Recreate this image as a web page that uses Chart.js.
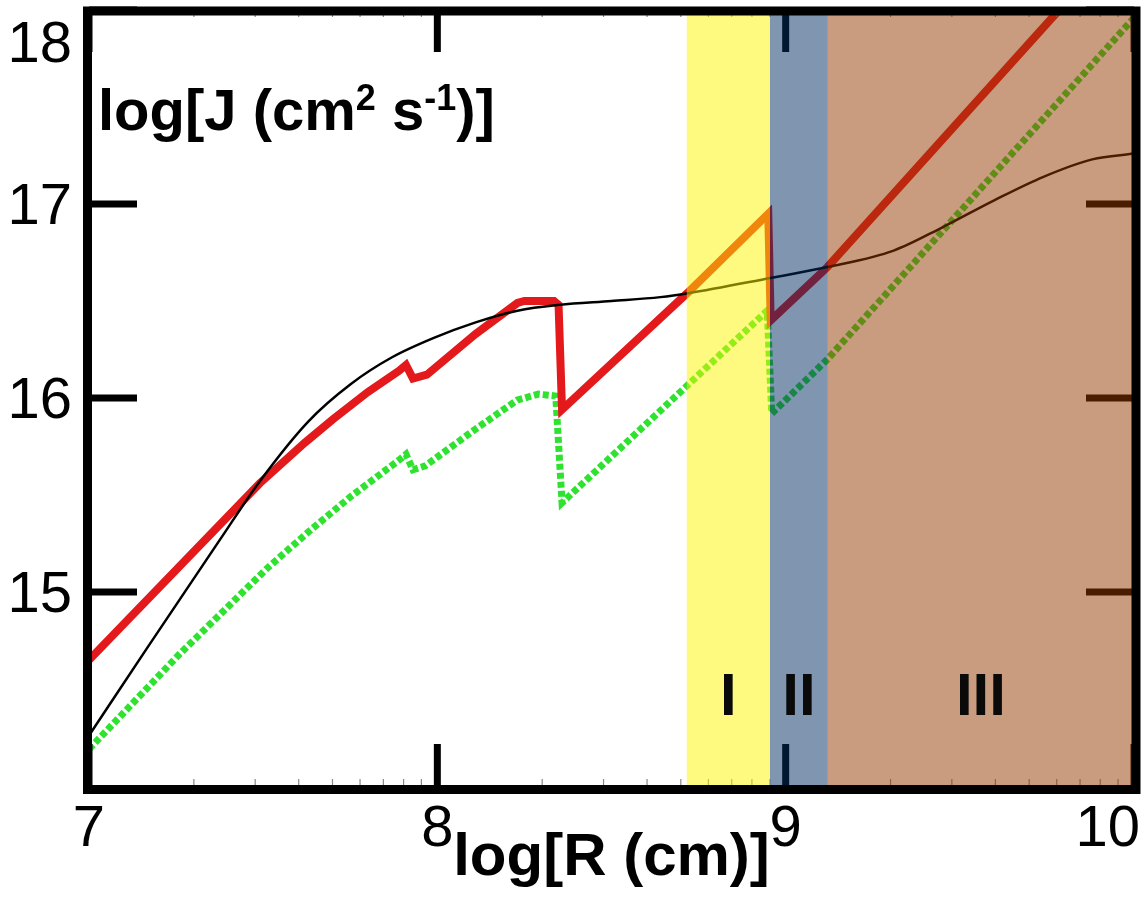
<!DOCTYPE html>
<html lang="en">
<head>
  <meta charset="UTF-8">
  <title>log J vs log R</title>
  <script src="https://cdn.jsdelivr.net/npm/chart.js"></script>
  <style>
    html, body { margin: 0; padding: 0; background: #fff; }
    canvas { display: block; }
  </style>
</head>
<body>
  <canvas id="jChart" width="1146" height="897"></canvas>

  <script>
    // values: x = log R (cm), y = log J (cm2 s-1)
    const blackX = [7.0, 7.17, 7.376, 7.49, 7.63, 7.75, 7.87, 7.99, 8.11, 8.23, 8.35, 8.5, 8.64, 8.72, 8.96, 9.12, 9.31, 9.45, 9.6, 9.74, 9.88, 10.0];
    const blackY = [14.26, 14.72, 15.27, 15.57, 15.88, 16.07, 16.21, 16.31, 16.39, 16.45, 16.48, 16.50, 16.52, 16.54, 16.62, 16.675, 16.76, 16.88, 17.02, 17.14, 17.23, 17.26];

    const redX = [7.0, 7.49, 7.62, 7.70, 7.80, 7.89, 7.91, 7.93, 7.97, 8.11, 8.23, 8.25, 8.335, 8.348, 8.358, 8.717, 8.95, 8.957, 9.12, 9.785];
    const redY = [14.65, 15.56, 15.77, 15.89, 16.03, 16.14, 16.17, 16.10, 16.12, 16.33, 16.49, 16.50, 16.50, 16.48, 15.94, 16.54, 16.95, 16.40, 16.675, 18.0];

    const greenX = [7.0, 7.26, 7.51, 7.63, 7.75, 7.89, 7.91, 7.93, 7.965, 8.11, 8.23, 8.29, 8.34, 8.358, 8.947, 8.96, 9.12, 10.0];
    const greenY = [14.19, 14.68, 15.12, 15.31, 15.49, 15.68, 15.71, 15.63, 15.65, 15.84, 15.99, 16.02, 16.01, 15.46, 16.45, 15.92, 16.20, 17.96];

    // shaded regimes I, II, III (edges in log R)
    const bandEdges = [8.716, 8.955, 9.121, 10.0];
    const bandNames = ['I', 'II', 'III'];

    const xTickLabels = [7, 8, 9, 10];
    const yTickLabels = [15, 16, 17, 18];

    const xTitle = 'log[R (cm)]';
    const yTitleParts = [['log[J (cm', false], ['2', true], [' s', false], ['-1', true], [')]', false]];

    const bandColors = ['rgba(251,245,0,0.5)', 'rgba(0,43,97,0.5)', 'rgba(147,55,0,0.5)'];
    const FONT = '"Liberation Sans", Arial, sans-serif';

    const toPoints = (xs, ys) => xs.map((v, i) => ({ x: v, y: ys[i] }));

    const decor = {
      id: 'decor',
      beforeDraw(chart) {
        const ctx = chart.ctx;
        ctx.save();
        ctx.fillStyle = '#fff';
        ctx.fillRect(0, 0, chart.width, chart.height);
        ctx.restore();
      },
      afterDatasetsDraw(chart) {
        const { ctx, chartArea: a, scales: { x, y } } = chart;
        const line = (x0, y0, x1, y1) => {
          ctx.beginPath(); ctx.moveTo(x0, y0); ctx.lineTo(x1, y1); ctx.stroke();
        };
        ctx.save();

        // minor ticks (log spaced) on top and bottom
        ctx.strokeStyle = '#888';
        ctx.lineWidth = 1.2;
        for (let d = 7; d < 10; d++) {
          for (let k = 2; k < 10; k++) {
            const px = x.getPixelForValue(d + Math.log10(k));
            line(px, a.bottom, px, a.bottom - 7);
            line(px, a.top, px, a.top + 7);
          }
        }

        // major ticks, pointing inward
        ctx.strokeStyle = '#000';
        ctx.lineWidth = 7;
        xTickLabels.forEach(v => {
          const px = x.getPixelForValue(v);
          line(px, a.bottom, px, a.bottom - 42);
          line(px, a.top, px, a.top + 42);
        });
        yTickLabels.forEach(v => {
          const py = y.getPixelForValue(v);
          line(a.left, py, a.left + 48, py);
          line(a.right, py, a.right - 48, py);
        });

        // translucent regime bands over the curves
        for (let i = 0; i < bandNames.length; i++) {
          const x0 = x.getPixelForValue(bandEdges[i]);
          const x1 = x.getPixelForValue(bandEdges[i + 1]);
          ctx.fillStyle = bandColors[i];
          ctx.fillRect(x0, a.top, x1 - x0, a.bottom - a.top);
        }

        // frame
        ctx.lineWidth = 9;
        ctx.strokeStyle = '#000';
        ctx.strokeRect(a.left - 1.5, a.top + 1, a.right - a.left + 3.5, a.bottom - a.top + 2.5);

        // regime labels
        ctx.fillStyle = '#0a0a0a';
        ctx.font = 'bold 60px ' + FONT;
        ctx.textAlign = 'center';
        ctx.textBaseline = 'alphabetic';
        for (let i = 0; i < bandNames.length; i++) {
          const cx = x.getPixelForValue((bandEdges[i] + bandEdges[i + 1]) / 2);
          ctx.fillText(bandNames[i], cx, 715);
        }

        // tick labels
        ctx.fillStyle = '#000';
        ctx.font = '58px ' + FONT;
        xTickLabels.forEach(v => {
          const t = String(v);
          const w = ctx.measureText(t).width;
          const cx = Math.min(x.getPixelForValue(v), chart.width - 6 - w / 2);
          ctx.fillText(t, cx, 846);
        });
        ctx.textAlign = 'right';
        yTickLabels.forEach(v => {
          const py = Math.max(y.getPixelForValue(v), 42);
          ctx.fillText(String(v), 72, py + 20);
        });

        // axis titles
        ctx.font = 'bold 60px ' + FONT;
        ctx.textAlign = 'center';
        ctx.fillText(xTitle, (a.left + a.right) / 2, 875);

        ctx.textAlign = 'left';
        let tx = 98;
        yTitleParts.forEach(([t, sup]) => {
          ctx.font = sup ? 'bold 36px ' + FONT : 'bold 58px ' + FONT;
          ctx.fillText(t, tx, sup ? 110 : 130);
          tx += ctx.measureText(t).width;
        });

        ctx.restore();
      }
    };

    new Chart(document.getElementById('jChart'), {
      type: 'line',
      data: {
        datasets: [
          {
            label: 'black',
            data: toPoints(blackX, blackY),
            borderColor: '#000',
            borderWidth: 2.5,
            cubicInterpolationMode: 'monotone'
          },
          {
            label: 'red',
            data: toPoints(redX, redY),
            borderColor: '#e3191b',
            borderWidth: 8,
            tension: 0
          },
          {
            label: 'green',
            data: toPoints(greenX, greenY),
            borderColor: '#2fe22f',
            borderWidth: 7,
            borderDash: [6, 3],
            tension: 0
          }
        ]
      },
      options: {
        responsive: false,
        animation: false,
        events: [],
        devicePixelRatio: 1,
        layout: { padding: { left: 89, right: 12, top: 10, bottom: 111 } },
        elements: { point: { radius: 0 } },
        plugins: { legend: { display: false }, tooltip: { enabled: false } },
        scales: {
          x: { type: 'linear', min: 7, max: 10, display: false },
          y: { type: 'linear', min: 14, max: 18, display: false }
        }
      },
      plugins: [decor]
    });
  </script>
</body>
</html>
